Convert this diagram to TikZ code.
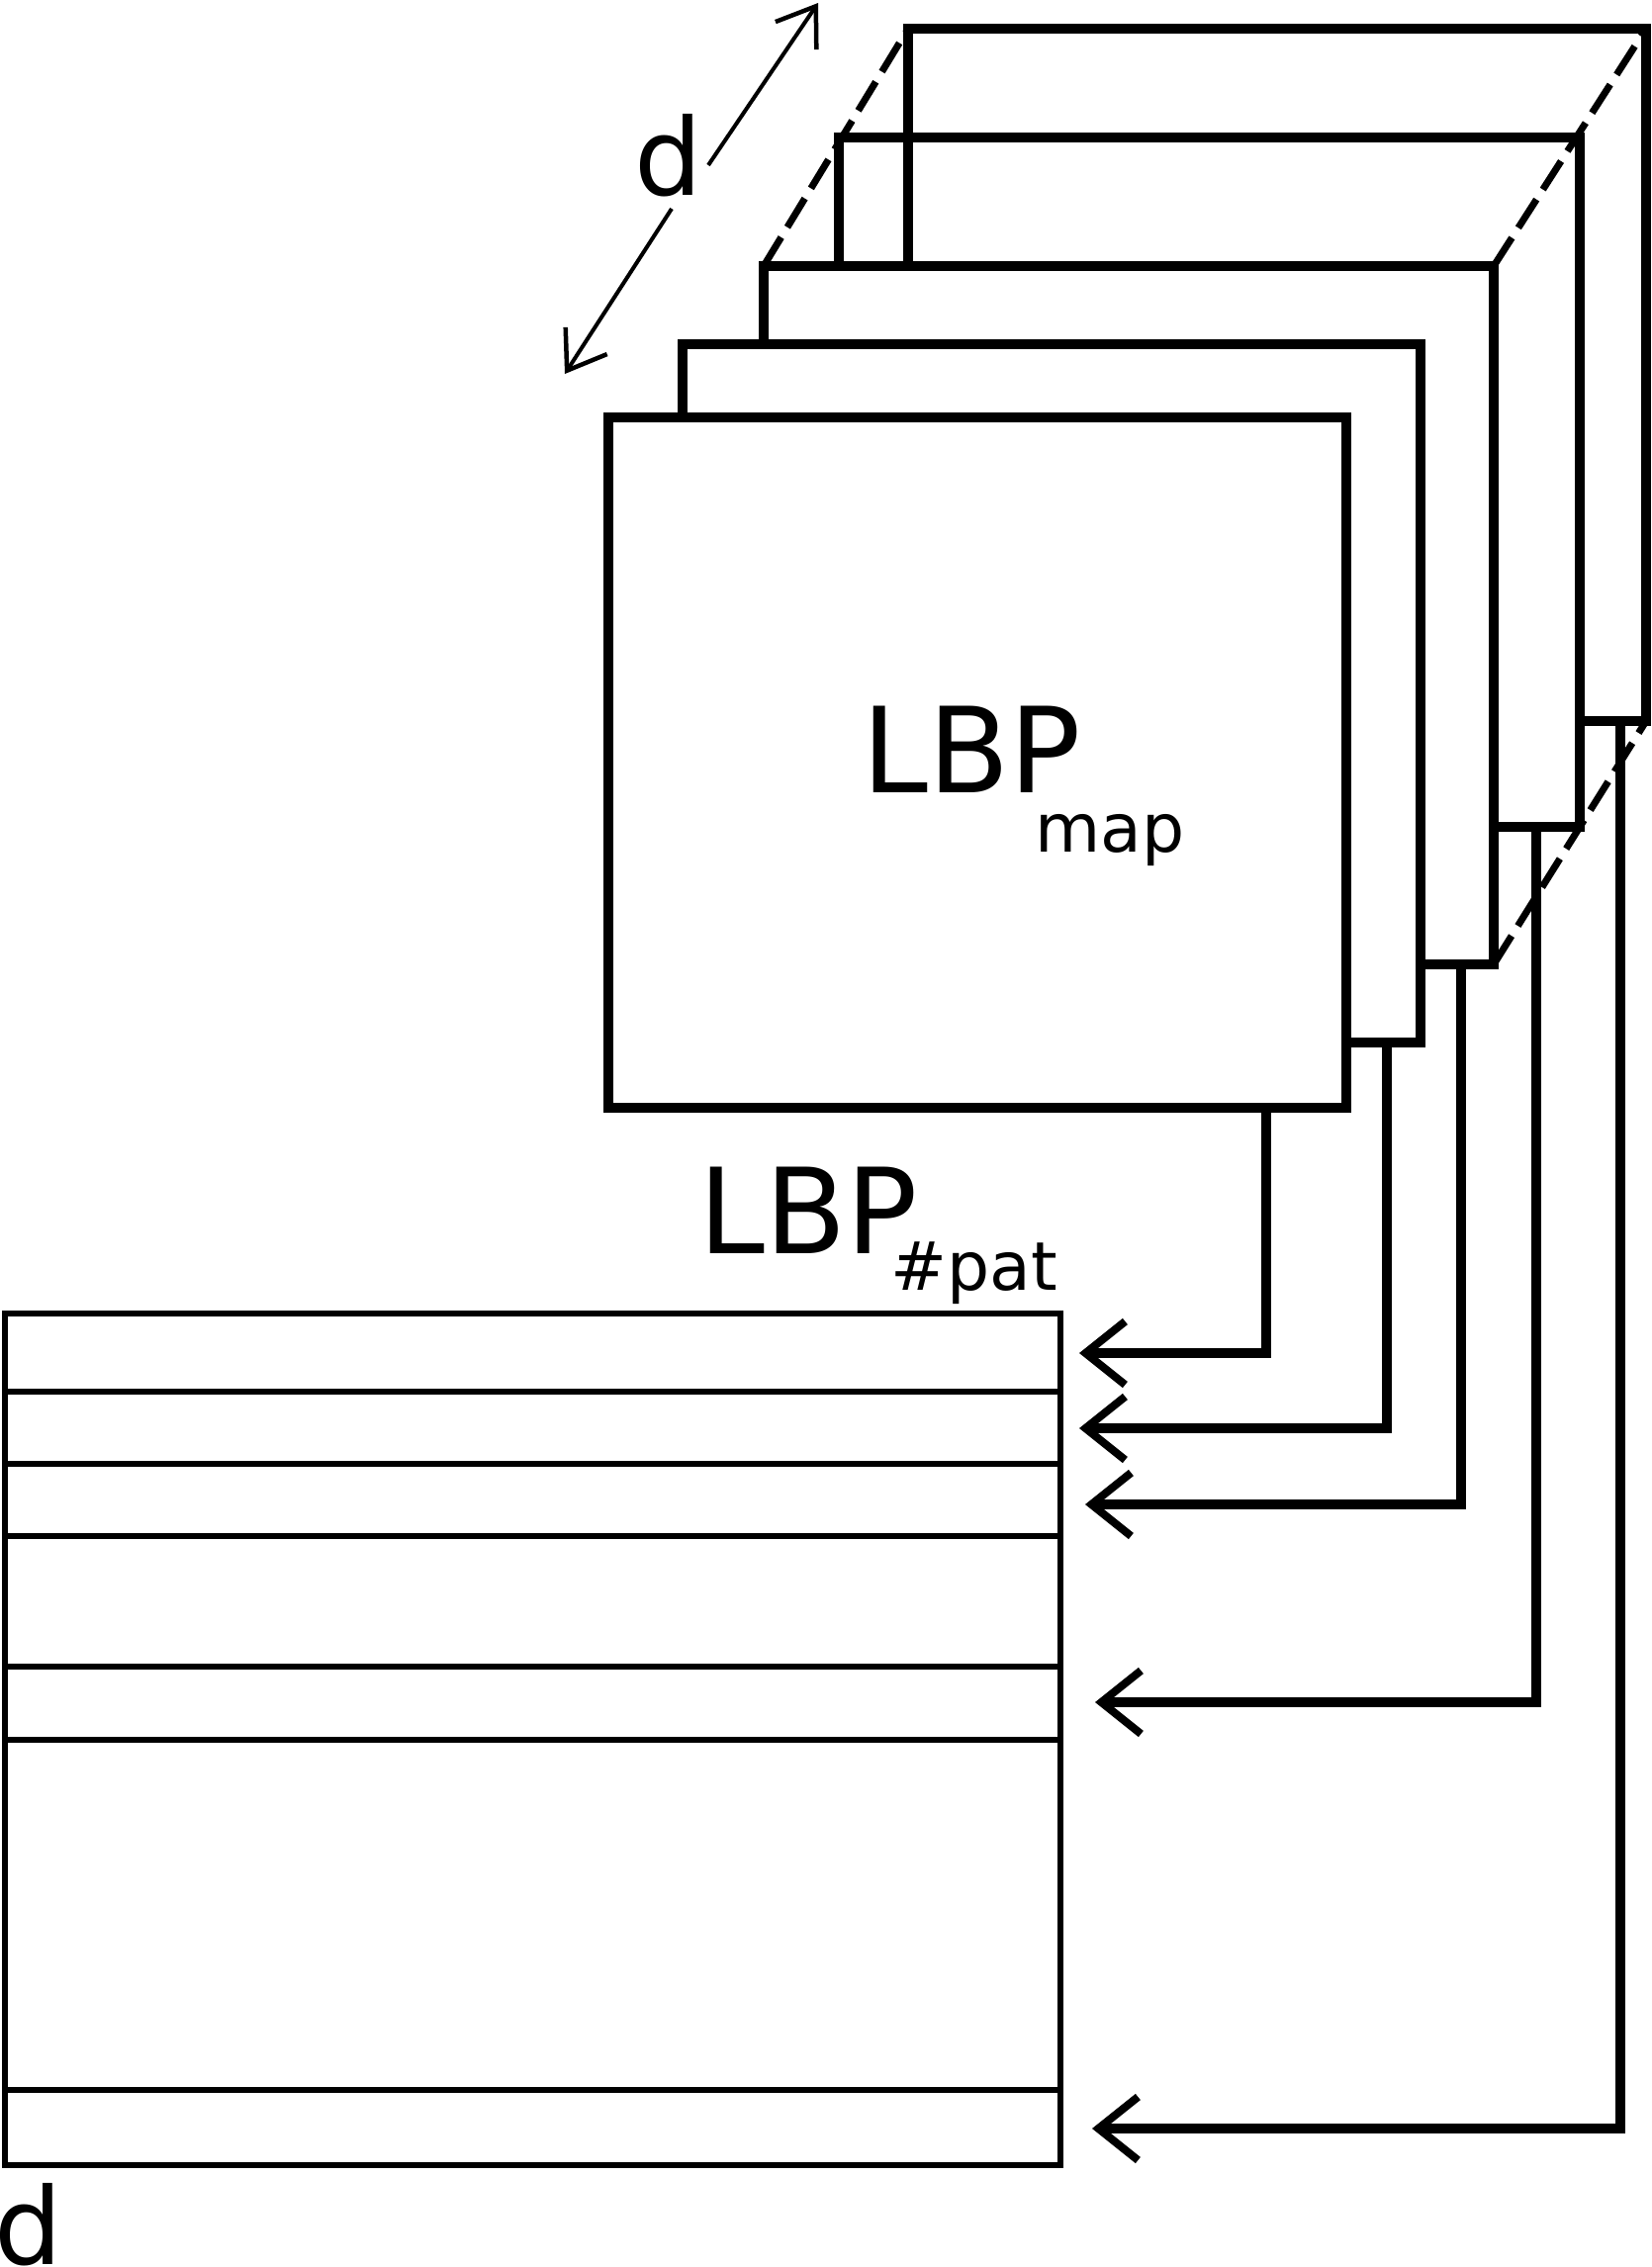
\documentclass[tikz,border=0pt]{standalone}
\usepackage{fontspec}
\setmainfont{DejaVu Sans}
\usetikzlibrary{arrows.meta}
\newcommand{\subfont}{\fontsize{68}{80}\selectfont}
\begin{document}
\begin{tikzpicture}[x=1pt,y=-1pt,
  sqline/.style={line width=10.5pt, line cap=butt, line join=miter},
  dashline/.style={line width=7pt, dash pattern=on 34pt off 12pt},
  matline/.style={line width=6pt},
  conn/.style={line width=10.5pt, -{Straight Barb[length=40pt,width=64pt,line width=8pt]}},
  darr/.style={line width=4pt, -{Straight Barb[length=36pt,width=50pt,line width=4.5pt]}},
  bigtxt/.style={inner sep=0pt, anchor=base west, font=\fontsize{120}{144}\selectfont},
  dtxt/.style={inner sep=0pt, anchor=base west, font=\fontsize{108}{130}\selectfont}]
\useasboundingbox (0,0) rectangle (1670,2292);
\fill[white] (0,0) rectangle (1670,2292);
% square corners
\coordinate (s1a) at (615,422); \coordinate (s1b) at (1361,422);
\coordinate (s1c) at (1361,1120); \coordinate (s1d) at (615,1120);
\coordinate (s2a) at (690,348); \coordinate (s2b) at (1436,348); \coordinate (s2c) at (1436,1054);
\coordinate (s3a) at (772,269); \coordinate (s3b) at (1510,269); \coordinate (s3c) at (1510,975);
\coordinate (s4a) at (848,139); \coordinate (s4b) at (1597,139); \coordinate (s4c) at (1597,836);
\coordinate (s5a) at (918,29); \coordinate (s5b) at (1664,29); \coordinate (s5c) at (1664,729);
% squares (visible parts)
\draw[sqline] (s5a |- s3a) -- (s5a) -- (s5b) -- (s5c) -- (s4c |- s5c);
\draw[sqline] (s4a |- s3a) -- (s4a) -- (s4b) -- (s4c) -- (s3c |- s4c);
\draw[sqline] (s3a |- s2a) -- (s3a) -- (s3b) -- (s3c) -- (s2c |- s3c);
\draw[sqline] (s2a |- s1a) -- (s2a) -- (s2b) -- (s2c) -- (s1c |- s2c);
\draw[sqline] (s1a) -- (s1b) -- (s1c) -- (s1d) -- cycle;
% depth dashes
\draw[dashline] (s3a) -- (s5a);
\draw[dashline] (s3b) -- (s5b);
\draw[dashline] (s3c) -- (s5c);
% labels
\node[bigtxt] (lbpmap) at (871,801) {LBP\kern-46.5pt\raisebox{-60pt}{\subfont map}};
\node[bigtxt] (lbppat) at (706,1267) {LBP\kern-27.5pt\raisebox{-37pt}{\subfont\#pat}};
\node[dtxt] (dtop) at (641,197) {d};
\node[dtxt] (dbot) at (-6,2289) {d};
% d arrow
\coordinate (da1) at (716,167); \coordinate (da2) at (827,3);
\coordinate (db1) at (679,211); \coordinate (db2) at (571,378);
\draw[darr] (da1) -- (da2);
\draw[darr] (db1) -- (db2);
% matrix
\coordinate (m1) at (5,1328); \coordinate (m2) at (1072,2189);
\draw[matline] (m1) rectangle (m2);
\foreach \y in {1407,1480,1553,1684.5,1759,2113}
  \draw[matline] (m1 |- 0,\y) -- (m2 |- 0,\y);
% connectors
\coordinate (c1) at (1280,1120); \coordinate (t1) at (1091,1368);
\coordinate (c2) at (1402,1054); \coordinate (t2) at (1091,1444);
\coordinate (c3) at (1477,975);  \coordinate (t3) at (1097,1521);
\coordinate (c4) at (1553,836);  \coordinate (t4) at (1107,1721);
\coordinate (c5) at (1638,729);  \coordinate (t5) at (1104,2152);
\draw[conn] (c1) |- (t1);
\draw[conn] (c2) |- (t2);
\draw[conn] (c3) |- (t3);
\draw[conn] (c4) |- (t4);
\draw[conn] (c5) |- (t5);
\end{tikzpicture}
\end{document}
